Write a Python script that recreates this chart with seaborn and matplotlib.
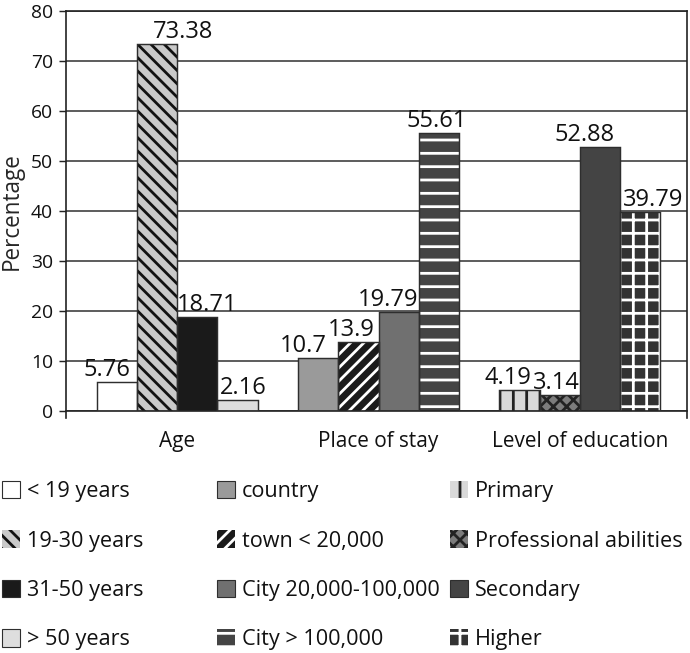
import matplotlib
matplotlib.use("Agg")
import matplotlib.pyplot as plt
import seaborn as sns
import pandas as pd
from matplotlib.patches import Patch, Rectangle

# ---------------- data ----------------
groups = ["Age", "Place of stay", "Level of education"]
age_labels = ["< 19 years", "19-30 years", "31-50 years", "> 50 years"]
age_values = [5.76, 73.38, 18.71, 2.16]
place_labels = ["country", "town < 20,000", "City 20,000-100,000", "City > 100,000"]
place_values = [10.7, 13.9, 19.79, 55.61]
edu_labels = ["Primary", "Professional abilities", "Secondary", "Higher"]
edu_values = [4.19, 3.14, 52.88, 39.79]
y_ticks = [0, 10, 20, 30, 40, 50, 60, 70, 80]

# ---------------- styles ----------------
face_colors = [
    ["#ffffff", "#c9c9c9", "#1a1a1a", "#dedede"],
    ["#9a9a9a", "#1a1a1a", "#707070", "#444444"],
    ["#d9d9d9", "#7c7c7c", "#444444", "#333333"],
]
hatches = [
    ["", "\\\\", "", ""],
    ["", "//", "", "-"],
    ["|", "xx", "", "+"],
]
hatch_colors = [
    ["none", "#111111", "none", "none"],
    ["none", "#ffffff", "none", "#ffffff"],
    ["#222222", "#222222", "none", "#ffffff"],
]
# horizontal nudges of the value labels (pixels)
label_dx = [
    [-10, 26, 10, 6],
    [-15, -7, -11, -2],
    [-12, -3, -15, 13],
]

DPI = 80
W, H = 690, 653
PX = 72.0 / DPI  # points per pixel

sns.set_style("white")
plt.rcParams["font.family"] = ["Open Sans", "DejaVu Sans"]
plt.rcParams["hatch.linewidth"] = 2.5

rows = []
all_values = [age_values, place_values, edu_values]
for g, vals in zip(groups, all_values):
    for s, v in enumerate(vals):
        rows.append({"group": g, "slot": f"s{s}", "value": v})
df = pd.DataFrame(rows)

fig = plt.figure(figsize=(W / DPI, H / DPI), dpi=DPI)
ax = fig.add_axes([66 / W, (H - 411) / H, 621 / W, 400 / H])

sns.barplot(data=df, x="group", y="value", hue="slot", order=groups,
            hue_order=["s0", "s1", "s2", "s3"], dodge=True, width=0.8,
            errorbar=None, legend=False, ax=ax, palette=["#888"] * 4)

edge = "#2e2e2e"
for s, cont in enumerate(ax.containers):
    for g, bar in enumerate(cont):
        bar.set_facecolor(face_colors[g][s])
        bar.set_hatch(hatches[g][s])
        bar.set_edgecolor(hatch_colors[g][s])
        bar.set_linewidth(0)
        bar.set_zorder(2)
        ax.add_patch(Rectangle(bar.get_xy(), bar.get_width(), bar.get_height(),
                               fill=False, ec=edge, lw=1.3, zorder=3))
        v = all_values[g][s]
        ax.annotate(f"{v:g}", (bar.get_x() + bar.get_width() / 2, bar.get_height()),
                    xytext=(label_dx[g][s] * PX, 6 * PX), textcoords="offset points",
                    ha="center", va="baseline", fontsize=21.3, color="#111", zorder=4)

ax.set_xlim(-0.552, 2.532)
ax.set_ylim(0, 80)
ax.set_yticks(y_ticks)
ax.set_yticklabels([str(t) for t in y_ticks])
ax.yaxis.grid(True, color="#333333", lw=1.4)
ax.set_axisbelow(True)
ax.set_xlabel("")
ax.set_ylabel("Percentage", fontsize=20.3, labelpad=6)
ax.tick_params(axis="y", length=7 * PX, width=1.3, pad=6 * PX, labelsize=17.3,
               color="#222", labelcolor="#111", left=True)
ax.tick_params(axis="x", length=0, pad=20 * PX, labelsize=18.7, labelcolor="#111")

for side in ["left", "right", "top", "bottom"]:
    ax.spines[side].set_color("#222222")
    ax.spines[side].set_linewidth(1.5)
ax.spines["left"].set_bounds(-1.4, 80)
ax.spines["right"].set_bounds(-1.4, 80)

# ---------------- legends ----------------
legend_labels = [age_labels, place_labels, edu_labels]
col_x = [2, 217, 450]
for g in range(3):
    handles = [Patch(facecolor=face_colors[g][s], hatch=hatches[g][s],
                     edgecolor=(hatch_colors[g][s] if hatches[g][s] else edge),
                     linewidth=(0 if hatches[g][s] else 1.0))
               for s in range(4)]
    fig.legend(handles, legend_labels[g], loc="upper left",
               bbox_to_anchor=(col_x[g] / W, 1 - 481 / H),
               frameon=False, borderpad=0, borderaxespad=0,
               handlelength=0.84, handleheight=0.84, handletextpad=0.3,
               labelspacing=1.31, fontsize=19.5, labelcolor="#111")

fig.savefig("out.png", dpi=DPI)
